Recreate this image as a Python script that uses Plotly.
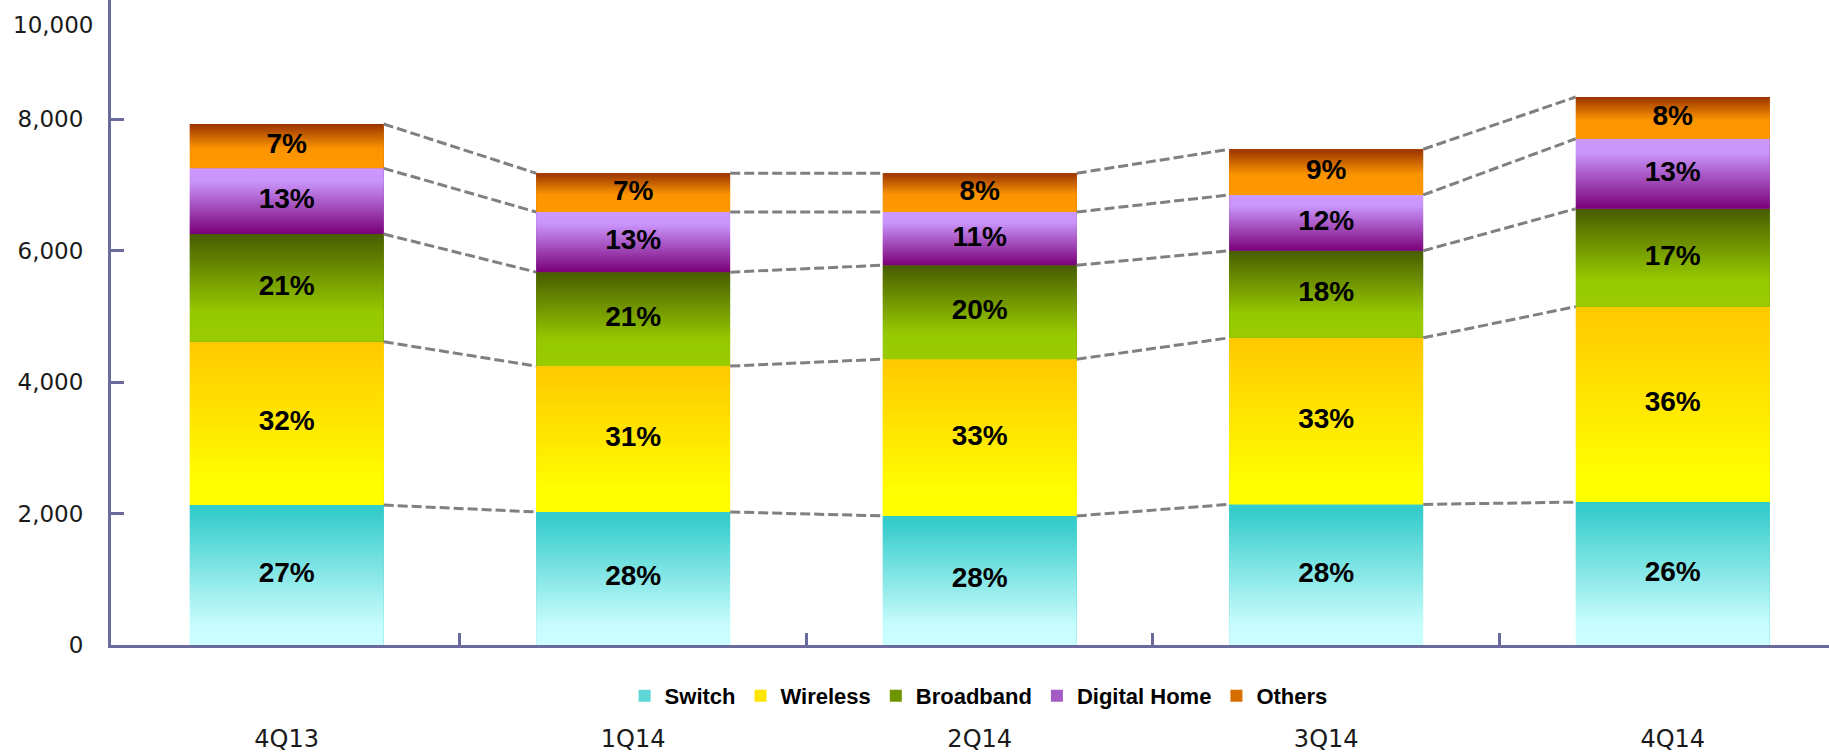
import plotly.graph_objects as go

# ---------------- data ----------------
categories = ["4Q13", "1Q14", "2Q14", "3Q14", "4Q14"]
series_names = ["Switch", "Wireless", "Broadband", "Digital Home", "Others"]

switch = [2130, 2025, 1965, 2140, 2175]
wireless = [2485, 2220, 2385, 2535, 2975]
broadband = [1640, 1430, 1430, 1325, 1490]
digital_home = [1000, 915, 810, 850, 1065]
others = [675, 590, 590, 695, 635]

switch_pct = ["27%", "28%", "28%", "28%", "26%"]
wireless_pct = ["32%", "31%", "33%", "33%", "36%"]
broadband_pct = ["21%", "21%", "20%", "18%", "17%"]
digital_home_pct = ["13%", "13%", "11%", "12%", "13%"]
others_pct = ["7%", "7%", "8%", "9%", "8%"]

y_tick_values = [0, 2000, 4000, 6000, 8000]
y_tick_labels = ["0", "2,000", "4,000", "6,000", "8,000"]
y_top_label = "10,000"

# ---------------- style ----------------
values = [switch, wireless, broadband, digital_home, others]
labels = [switch_pct, wireless_pct, broadband_pct, digital_home_pct, others_pct]
legend_colors = ["#5fd6d6", "#ffe600", "#6f9400", "#a45cc4", "#d86e00"]
# colorscale: 0 = bottom of segment, 1 = top of segment
gradients = [
    [[0, "#ccffff"], [0.15, "#c8fcfc"], [0.95, "#36cccc"], [1, "#33cccc"]],
    [[0, "#ffff00"], [0.12, "#ffff00"], [1, "#ffc800"]],
    [[0, "#99cc00"], [0.28, "#96c800"], [1, "#485c00"]],
    [[0, "#7a0078"], [0.8, "#c994fb"], [1, "#cc99ff"]],
    [[0, "#ff9900"], [0.45, "#fb9400"], [1, "#993300"]],
]
AXIS_COLOR = "#6a6a9c"
BAR_W = 0.56
x_idx = list(range(len(categories)))

fig = go.Figure()

# real stacked bars (data + legend)
for name, vals, col in zip(series_names, values, legend_colors):
    fig.add_trace(go.Bar(
        x=x_idx, y=vals, name=name, width=BAR_W,
        marker=dict(color=col, line=dict(width=0)),
        hoverinfo="name+y",
    ))

# gradient overlay on each stacked segment
bases = [0] * len(categories)
tops_per_series = []
mids = []
for s, (vals, cs) in enumerate(zip(values, gradients)):
    tops = []
    mid = []
    for i, v in enumerate(vals):
        b = bases[i]
        t = b + v
        fig.add_trace(go.Scatter(
            x=[i - BAR_W / 2, i + BAR_W / 2, i + BAR_W / 2, i - BAR_W / 2, i - BAR_W / 2],
            y=[b, b, t, t, b],
            mode="lines", fill="toself",
            fillgradient=dict(type="vertical", colorscale=cs, start=b, stop=t),
            line=dict(width=0), showlegend=False, hoverinfo="skip",
        ))
        tops.append(t)
        mid.append(b + v / 2)
    bases = tops
    tops_per_series.append(tops)
    mids.append(mid)

# dashed connector lines between bar boundaries
cx, cy = [], []
for tops in tops_per_series:
    for i in range(len(categories) - 1):
        cx += [i + BAR_W / 2, i + 1 - BAR_W / 2, None]
        cy += [tops[i], tops[i + 1], None]
fig.add_trace(go.Scatter(
    x=cx, y=cy, mode="lines", showlegend=False, hoverinfo="skip",
    line=dict(color="#808080", width=3, dash="10px,4px"),
))

# percentage labels
tx, ty, tt = [], [], []
for mid, lab in zip(mids, labels):
    for i in range(len(categories)):
        tx.append(i)
        ty.append(mid[i])
        tt.append(lab[i])
fig.add_trace(go.Scatter(
    x=tx, y=ty, text=tt, mode="text", showlegend=False, hoverinfo="skip",
    textfont=dict(family="Liberation Sans, Arial, sans-serif", size=28,
                  color="black", weight="bold"),
    cliponaxis=False,
))

fig.add_annotation(
    text=y_top_label, xref="paper", yref="paper", x=-0.0338, y=1,
    xanchor="center", yanchor="middle", yshift=-25, showarrow=False,
    font=dict(family="DejaVu Sans", size=23, color="#1a1a1a"),
)

fig.update_layout(
    width=1829, height=755,
    margin=dict(l=111, r=0, t=0, b=110, autoexpand=False),
    paper_bgcolor="white", plot_bgcolor="white",
    barmode="stack",
    showlegend=True,
    legend=dict(
        orientation="h", x=0.505, xanchor="center", y=-0.079, yanchor="middle",
        font=dict(family="Liberation Sans Narrow, Arial Narrow, Liberation Sans",
                  size=22, color="black", weight="bold"),
        itemwidth=30, traceorder="normal", bgcolor="rgba(0,0,0,0)",
    ),
    xaxis=dict(
        range=[-0.507, 4.451], showgrid=False, zeroline=False, automargin=False,
        showline=True, linecolor=AXIS_COLOR, linewidth=3,
        tickmode="array", tickvals=x_idx, ticktext=categories, ticks="",
        ticklabelstandoff=70,
        tickfont=dict(family="DejaVu Sans", size=24, color="#1a1a1a"),
        minor=dict(tickmode="array", tickvals=[0.5, 1.5, 2.5, 3.5], ticks="inside",
                   ticklen=12, tickwidth=3, tickcolor=AXIS_COLOR, showgrid=False),
    ),
    yaxis=dict(
        range=[0, 9817], showgrid=False, zeroline=False, automargin=False,
        showline=True, linecolor=AXIS_COLOR, linewidth=3,
        tickmode="array", tickvals=y_tick_values, ticktext=y_tick_labels,
        ticks="inside", ticklen=13, tickwidth=3, tickcolor=AXIS_COLOR,
        ticklabelstandoff=20,
        tickfont=dict(family="DejaVu Sans", size=23, color="#1a1a1a"),
    ),
)

fig.write_html("out.html", config={"displayModeBar": False},
               post_script="document.body.style.margin='0';document.body.style.overflow='hidden';")
